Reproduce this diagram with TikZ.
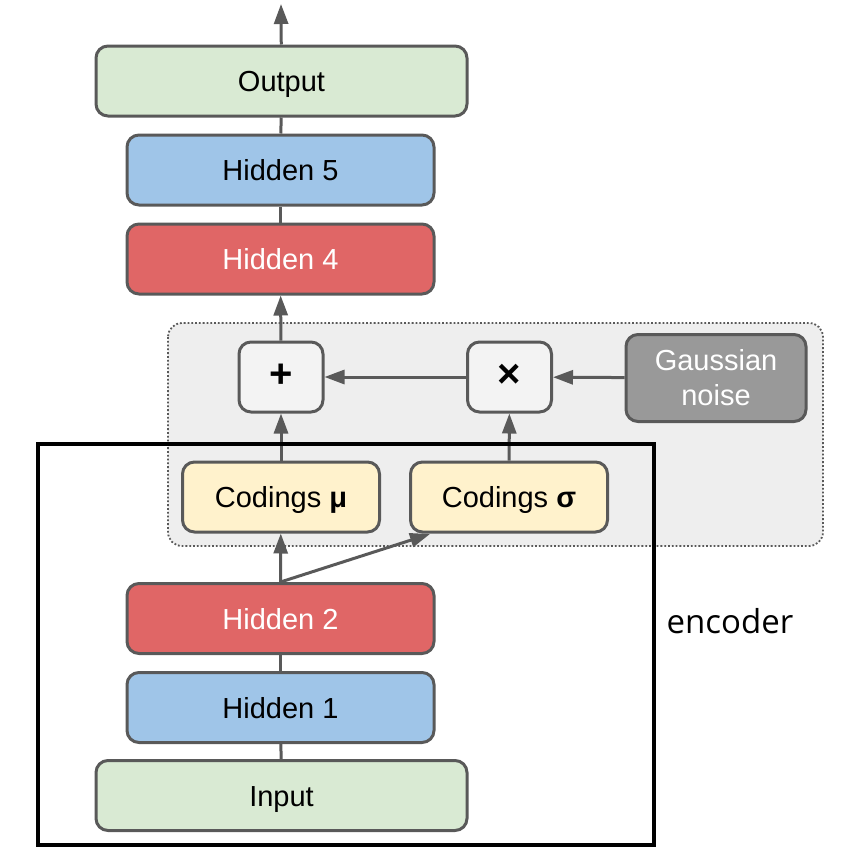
\documentclass[tikz,border=0pt]{standalone}
\usepackage{fontspec}
\setmainfont{Liberation Sans}
\newfontfamily\encfont{Open Sans}
\usepackage{tikz}
\usetikzlibrary{arrows.meta}

\definecolor{edgegray}{HTML}{595959}
\definecolor{boxgreen}{HTML}{D9EAD3}
\definecolor{boxblue}{HTML}{9FC5E8}
\definecolor{boxred}{HTML}{E06666}
\definecolor{boxyellow}{HTML}{FFF2CC}
\definecolor{boxlight}{HTML}{F3F3F3}
\definecolor{boxnoise}{HTML}{999999}
\definecolor{regiongray}{HTML}{EEEEEE}

\begin{document}
\begin{tikzpicture}[x=1pt, y=-1pt,
    basebox/.style={draw=edgegray, line width=3pt, rounded corners=12pt, inner sep=0pt,
        font=\fontsize{29}{35}\selectfont},
    layer/.style={basebox, minimum height=70pt, text height=21pt, text depth=0pt},
    wide/.style={layer, minimum width=371pt, fill=boxgreen},
    hidblue/.style={layer, minimum width=307pt, fill=boxblue},
    hidred/.style={layer, minimum width=307pt, fill=boxred, text=white},
    coding/.style={layer, minimum width=197pt, fill=boxyellow},
    oper/.style={layer, minimum width=84pt, fill=boxlight, font=\fontsize{40}{40}\selectfont\bfseries},
    link/.style={draw=edgegray, line width=3pt},
    ->/.style={link, -{Triangle[length=20pt,width=14pt]}}]
    \useasboundingbox (0,0) rectangle (856,854);
    \draw[draw=edgegray, fill=regiongray, line width=1.8pt, dotted, rounded corners=14pt]
        (168,323) rectangle (823,546);
    \node[wide] (out) at (281.5, 81) {Output};
    \node[hidblue] (h5) at (280.5, 170) {Hidden 5};
    \node[hidred] (h4) at (280.5, 259) {Hidden 4};
    \node[oper] (plus) at (281, 377) {+};
    \node[oper] (times) at (509.5, 377) {×};
    \node[basebox, minimum width=180pt, minimum height=87pt, fill=boxnoise, text=white,
        align=center] (noise) at (716, 378) {Gaussian\\noise};
    \node[coding] (mu) at (281, 497) {Codings \textbf{μ}};
    \node[coding] (sigma) at (509, 497) {Codings \textbf{σ}};
    \node[hidred] (h2) at (280.5, 618.5) {Hidden 2};
    \node[hidblue] (h1) at (280.5, 707.5) {Hidden 1};
    \node[wide, fill=boxgreen] (in) at (281.5, 795.5) {Input};
    \coordinate (top) at (281, 4);
    \coordinate (sigmain) at (430, 534);
    \draw[->] (out) to (top);
    \draw[link] (h5) to (out);
    \draw[link] (h4) to (h5);
    \draw[->] (plus) to (h4);
    \draw[->] (times) to (plus);
    \draw[->] (noise) to (times);
    \draw[->] (mu) to (plus);
    \draw[->] (sigma) to (times);
    \draw[->] (h2.north) to (mu);
    \draw[->] (h2.north) to (sigmain);
    \draw[link] (h1) to (h2);
    \draw[link] (in) to (h1);
    \draw[line width=4pt] (38,444) rectangle (654,845);
    \node[font=\encfont\fontsize{33}{36}\selectfont] (enc) at (730, 621) {encoder};
\end{tikzpicture}
\end{document}
